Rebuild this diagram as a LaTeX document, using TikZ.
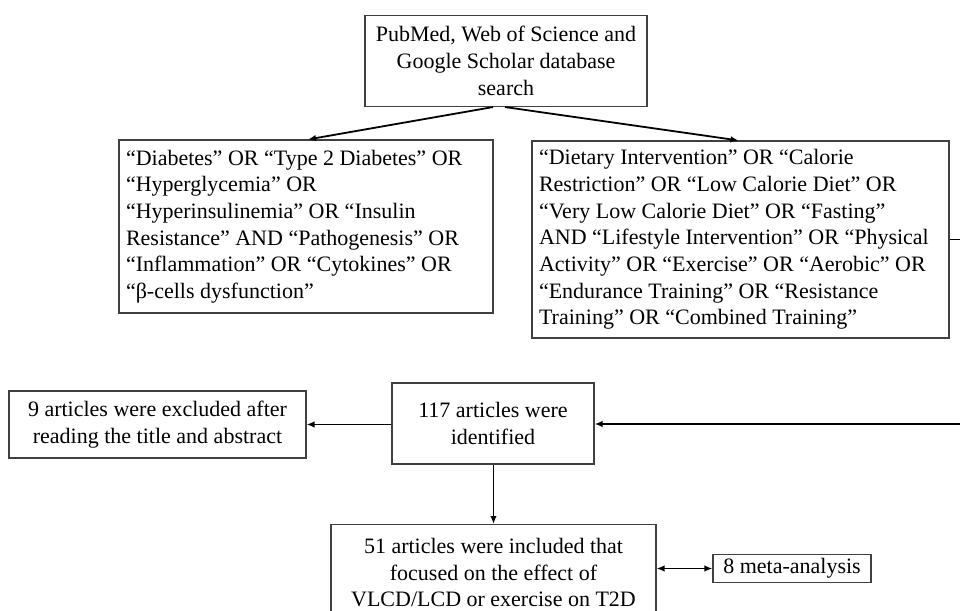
\documentclass[tikz,border=0pt]{standalone}
\usepackage{fontspec}
\setmainfont{Liberation Serif}
\usetikzlibrary{arrows.meta}
\begin{document}
\begin{tikzpicture}[x=1pt,y=-1pt,
  box/.style={draw=black!75, line width=1.1pt, inner sep=0pt, font=\fontsize{22}{26.7}\selectfont},
  conn/.style={line width=1.8pt, -{Latex[length=8pt,width=6.5pt]}},
  conn2/.style={line width=1.8pt, {Latex[length=8pt,width=6.5pt]}-{Latex[length=8pt,width=6.5pt]}}]
\useasboundingbox (0,0) rectangle (960,610);
\clip (0,0) rectangle (960,610);
\fill[white] (0,0) rectangle (960,610);
\node[box, minimum width=282, minimum height=91, align=center] (top) at (506,61)
  {PubMed, Web of Science and\\Google Scholar database\\search};
\node[box, text width=360, inner xsep=7pt, minimum height=173, align=flush left] (left) at (306,226.5)
  {“Diabetes” OR “Type 2 Diabetes” OR\\“Hyperglycemia” OR\\“Hyperinsulinemia” OR “Insulin\\Resistance” AND “Pathogenesis” OR\\“Inflammation” OR “Cytokines” OR\\“β-cells dysfunction”};
\node[box, text width=403, inner xsep=7pt, minimum height=197, align=flush left] (right) at (740.5,239.5)
  {“Dietary Intervention” OR “Calorie\\Restriction” OR “Low Calorie Diet” OR\\“Very Low Calorie Diet” OR “Fasting”\\AND “Lifestyle Intervention” OR “Physical\\Activity” OR “Exercise” OR “Aerobic” OR\\“Endurance Training” OR “Resistance\\Training” OR “Combined Training”};
\node[box, minimum width=202, minimum height=81, align=center] (ident) at (493,423.5)
  {117 articles were\\identified};
\node[box, minimum width=297, minimum height=67, align=center] (excl) at (157.5,424.5)
  {9 articles were excluded after\\reading the title and abstract};
\node[box, minimum width=325, minimum height=96, align=center, anchor=north] (incl) at (493.5,524)
  {51 articles were included that\\focused on the effect of\\VLCD/LCD or exercise on T2D};
\node[box, minimum width=158, minimum height=28, align=center] (meta) at (792,568.5)
  {\raisebox{-2pt}{8 meta-analysis}};
\coordinate (ra) at (966,239.5);
\coordinate (rb) at (966,424);
\draw[conn] ([xshift=-13pt]top.south) -- ([xshift=2pt]left.north);
\draw[conn] ([xshift=-1pt]top.south) -- ([xshift=-2pt]right.north);
\draw[line width=1.8pt] (right.east) -- (ra) -- (rb);
\draw[conn] (rb) -- (ident.east |- rb);
\draw[conn] (ident.west |- excl.east) -- (excl.east);
\draw[conn] (ident.south -| incl.north) -- (incl.north);
\draw[conn2] (incl.east |- meta.west) -- (meta.west);
\end{tikzpicture}
\end{document}
